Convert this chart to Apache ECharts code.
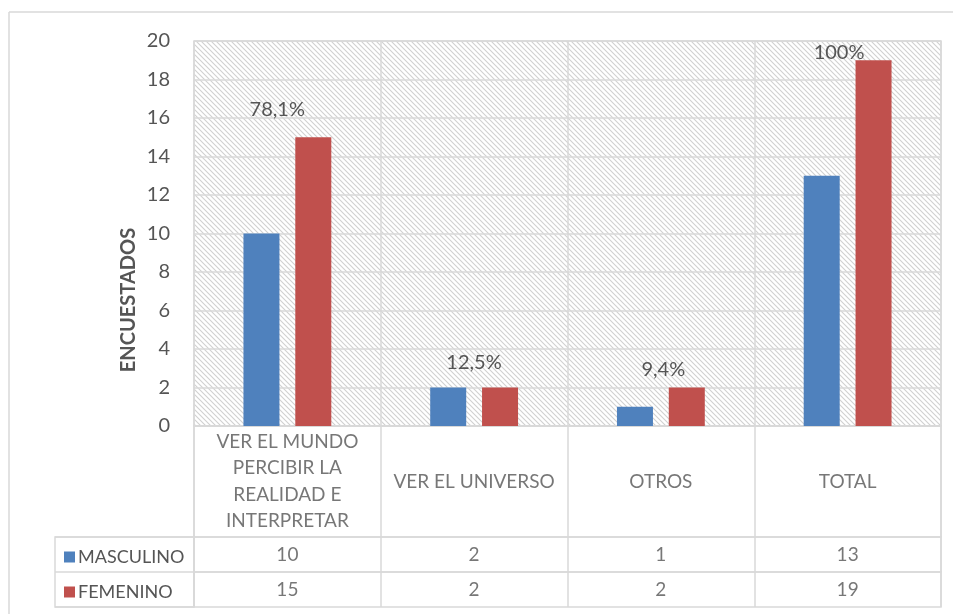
<!DOCTYPE html>
<html>
<head>
<meta charset="utf-8">
<script src="https://cdn.jsdelivr.net/npm/echarts@6/dist/echarts.min.js"></script>
<style>html,body{margin:0;padding:0;background:#fff}#c{width:957px;height:614px}</style>
</head>
<body>
<div id="c"></div>
<script>
const categories = ['VER EL MUNDO\nPERCIBIR LA\nREALIDAD E\nINTERPRETAR', 'VER EL UNIVERSO', 'OTROS', 'TOTAL'];
const seriesNames = ['MASCULINO', 'FEMENINO'];
const masculino = [10, 2, 1, 13];
const femenino = [15, 2, 2, 19];
const pctLabels = ['78,1%', '12,5%', '9,4%', '100%'];
const yMin = 0, yMax = 20, yInterval = 2;
const yTitle = 'ENCUESTADOS';

const FONT = 'Lato';
const TXT = '#555555';
const LINE = '#d9d9d9';
const BLUE = '#4f81bd';
const RED = '#c0504d';

function hatch() {
  const s = 5;
  const c = document.createElement('canvas');
  c.width = s; c.height = s;
  const g = c.getContext('2d');
  g.fillStyle = '#ffffff';
  g.fillRect(0, 0, s, s);
  g.strokeStyle = '#d0d0d0';
  g.lineWidth = 1.1;
  g.beginPath();
  g.moveTo(-1, -1); g.lineTo(s + 1, s + 1);
  g.moveTo(-1, s - 1); g.lineTo(1, s + 1);
  g.moveTo(s - 1, -1); g.lineTo(s + 1, 1);
  g.stroke();
  return c;
}

const chart = echarts.init(document.getElementById('c'), null, {renderer: 'canvas'});

const plotL = 194, plotW = 747;
const labelOffsets = [[-36, -13], [-26, -9.5], [-23.5, -2.5], [-34.5, 7]];

const cellAxis = (gi) => ({
  type: 'category', gridIndex: gi, data: categories,
  axisLine: {show: false}, axisTick: {show: false}, axisLabel: {show: false},
  splitLine: {show: true, interval: 0, lineStyle: {color: LINE, width: 1.5}}
});
const cellY = (gi) => ({
  type: 'value', gridIndex: gi, min: 0, max: 1,
  axisLine: {show: false}, axisTick: {show: false}, axisLabel: {show: false}, splitLine: {show: false}
});
const cellSeries = (gi, vals, fs, lh) => ({
  type: 'scatter', xAxisIndex: gi, yAxisIndex: gi, symbolSize: 0, silent: true,
  data: vals.map((v, i) => [i, 0.5]),
  label: {
    show: true, position: 'inside', color: TXT, fontFamily: FONT, fontSize: fs,
    lineHeight: lh, align: 'center', verticalAlign: 'middle',
    formatter: p => String(vals[p.dataIndex])
  }
});

const option = {
  backgroundColor: '#ffffff',
  animation: false,
  textStyle: {fontFamily: FONT},
  grid: [
    {left: plotL, top: 41, width: plotW, height: 385, show: true, backgroundColor: {image: hatch(), repeat: 'repeat'}, borderColor: LINE, borderWidth: 1.5},
    {left: plotL, top: 426, width: plotW, height: 111, show: true, borderColor: LINE, borderWidth: 1.5},
    {left: plotL, top: 537, width: plotW, height: 35, show: true, borderColor: LINE, borderWidth: 1.5},
    {left: plotL, top: 572, width: plotW, height: 35, show: true, borderColor: LINE, borderWidth: 1.5},
    {left: 55, top: 537, width: 139, height: 70, show: true, borderColor: LINE, borderWidth: 1.5}
  ],
  legend: [
    {data: [seriesNames[0]], left: 59, top: 543, icon: 'rect', itemWidth: 11, itemHeight: 11, itemGap: 4,
     textStyle: {color: TXT, fontFamily: FONT, fontSize: 18, padding: [0, 0, 0, -2]}, selectedMode: false},
    {data: [seriesNames[1]], left: 59, top: 578, icon: 'rect', itemWidth: 11, itemHeight: 11, itemGap: 4,
     textStyle: {color: TXT, fontFamily: FONT, fontSize: 18, padding: [0, 0, 0, -2]}, selectedMode: false}
  ],
  xAxis: [
    {type: 'category', gridIndex: 0, data: categories,
     axisLine: {show: true, lineStyle: {color: LINE, width: 1.5}}, axisTick: {show: false}, axisLabel: {show: false},
     splitLine: {show: true, interval: 0, lineStyle: {color: LINE, width: 1.5}}},
    cellAxis(1), cellAxis(2), cellAxis(3),
    {type: 'category', gridIndex: 4, data: [''], show: false}
  ],
  yAxis: [
    {type: 'value', gridIndex: 0, min: yMin, max: yMax, interval: yInterval,
     axisLine: {show: false}, axisTick: {show: false},
     axisLabel: {color: TXT, fontFamily: FONT, fontSize: 20, margin: 24},
     splitLine: {show: true, lineStyle: {color: LINE, width: 1.5}}},
    cellY(1), cellY(2), cellY(3),
    {type: 'category', gridIndex: 4, data: seriesNames, inverse: true,
     axisLine: {show: false}, axisTick: {show: false}, axisLabel: {show: false},
     splitLine: {show: true, interval: 0, lineStyle: {color: LINE, width: 1.5}}}
  ],
  series: [
    {name: seriesNames[0], type: 'bar', xAxisIndex: 0, yAxisIndex: 0, data: masculino,
     barWidth: 36, barGap: '44%', itemStyle: {color: BLUE}},
    {name: seriesNames[1], type: 'bar', xAxisIndex: 0, yAxisIndex: 0,
     data: femenino.map((v, i) => ({
       value: v,
       label: {show: true, position: 'top', offset: labelOffsets[i], formatter: pctLabels[i]}
     })),
     barWidth: 36, barGap: '44%', itemStyle: {color: RED},
     label: {color: TXT, fontFamily: FONT, fontSize: 20}},
    cellSeries(1, categories, 19, 26.5),
    cellSeries(2, masculino, 19, 22),
    cellSeries(3, femenino, 19, 22)
  ],
  graphic: [
    {type: 'line', shape: {x1: 9, y1: 12, x2: 953, y2: 12}, style: {stroke: LINE, lineWidth: 1.5}, silent: true},
    {type: 'line', shape: {x1: 9, y1: 12, x2: 9, y2: 614}, style: {stroke: LINE, lineWidth: 1.5}, silent: true},
    {type: 'text', x: 129, y: 300, rotation: Math.PI / 2,
     style: {text: yTitle, fill: TXT, font: 'bold 20px ' + FONT, textAlign: 'center', textVerticalAlign: 'middle'}, silent: true}
  ]
};
chart.setOption(option);
</script>
</body>
</html>
